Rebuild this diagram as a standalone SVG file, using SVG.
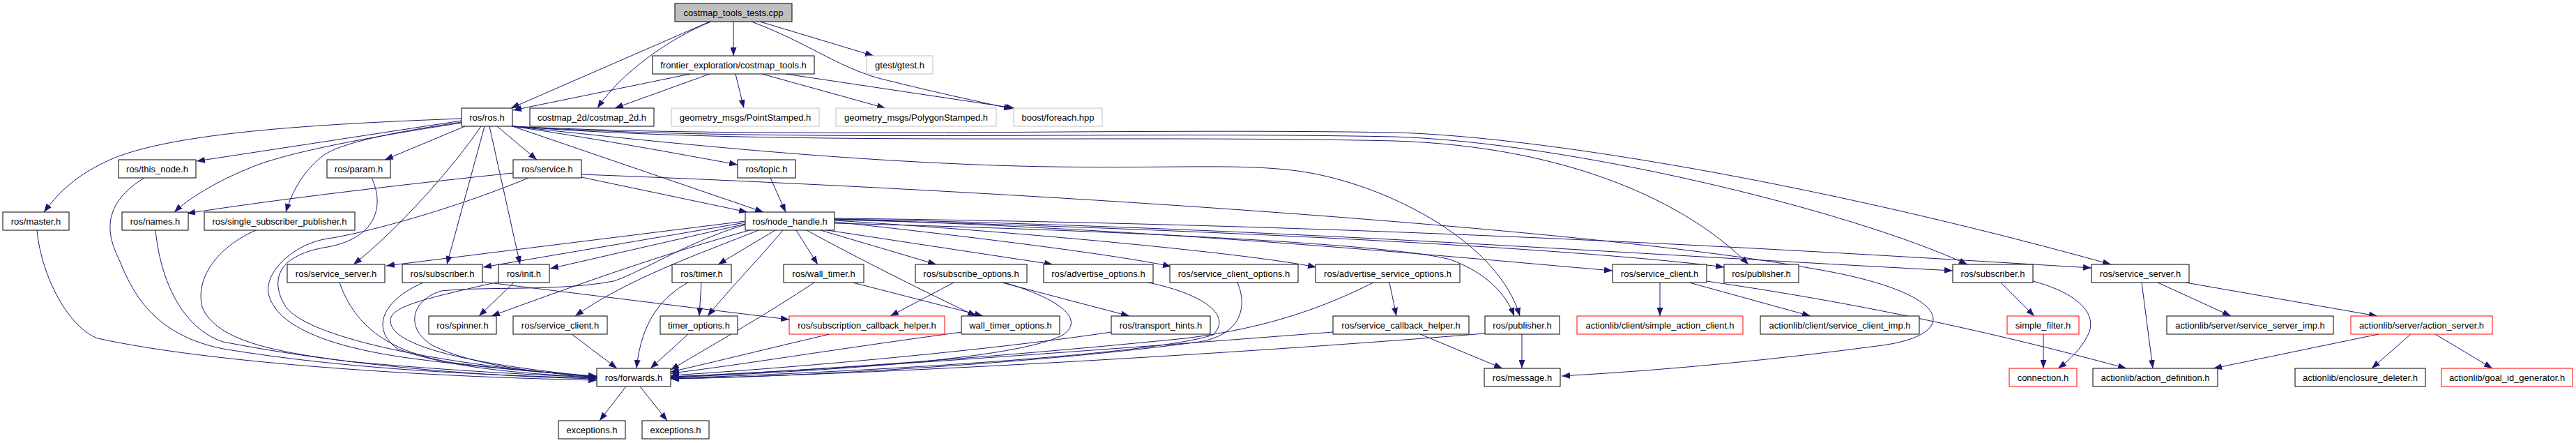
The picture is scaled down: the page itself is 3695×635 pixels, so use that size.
<svg xmlns="http://www.w3.org/2000/svg" width="3695" height="635" viewBox="0 0 3695 635">
<style>
.n rect{fill:#ffffff;stroke:#000000;stroke-width:1}
.n.g rect{stroke:#bfbfbf}
.n.r rect{stroke:#ff0000}
.n.root rect{fill:#bfbfbf}
.n text{font-family:"Liberation Sans",Arial,sans-serif;font-size:13px;fill:#000000;text-anchor:middle}
#edges path{fill:none;stroke:#191970;stroke-width:1;marker-end:url(#a)}
</style>
<defs>
<marker id="a" markerWidth="12" markerHeight="9" refX="12" refY="4.5" orient="auto" markerUnits="userSpaceOnUse"><path d="M0,0L12,4.5L0,9z" fill="#191970"/></marker>
</defs>
<rect width="3695" height="635" fill="#ffffff"/>
<g id="edges">
<path d="M1052,31L1052,80"/>
<path d="M1018,31L733,155"/>
<path d="M1020,31C960,55 890,105 857,155"/>
<path d="M1090,31L1253,80"/>
<path d="M1078,31C1160,62 1200,95 1260,112C1340,132 1400,145 1452,156"/>
<path d="M990,106L736,158"/>
<path d="M1018,106L882,155"/>
<path d="M1055,106L1067,155"/>
<path d="M1093,106L1270,155"/>
<path d="M1127,106L1455,155"/>
<path d="M662,170C450,178 250,190 160,228C110,250 85,275 63,304"/>
<path d="M662,173L282,231"/>
<path d="M662,176C560,192 420,215 360,240C310,260 270,285 250,304"/>
<path d="M662,175C560,190 490,205 465,222C440,240 420,270 410,304"/>
<path d="M667,181L552,229"/>
<path d="M690,181C650,240 570,330 507,379"/>
<path d="M695,181L641,379"/>
<path d="M702,181L746,379"/>
<path d="M713,181L770,229"/>
<path d="M735,181C850,198 960,218 1058,236"/>
<path d="M735,181L1095,304"/>
<path d="M735,181C1000,210 1200,228 1400,236C1650,246 1780,230 1880,248C2000,270 2150,350 2180,453"/>
<path d="M735,181C1100,200 1600,183 2000,190C2200,195 2600,260 3028,379"/>
<path d="M735,181C1100,205 1600,188 2000,196C2250,204 2650,300 2822,379"/>
<path d="M735,181C1100,210 1600,193 2000,202C2250,210 2420,290 2508,379"/>
<path d="M736,248C600,262 400,285 268,306"/>
<path d="M758,255C650,300 520,335 470,342C420,350 380,390 385,420C395,470 480,500 600,515C700,528 800,535 856,540"/>
<path d="M834,254L1072,304"/>
<path d="M834,250C1500,275 2300,330 2600,385C2810,420 2810,480 2700,495C2550,515 2400,530 2240,539"/>
<path d="M1105,255L1127,304"/>
<path d="M207,255C150,290 150,330 170,370C190,420 220,480 320,500C500,530 700,538 856,542"/>
<path d="M223,330C230,400 260,470 320,490C500,525 700,540 856,543"/>
<path d="M53,330C60,400 100,470 140,485C300,520 600,540 856,545"/>
<path d="M367,330C310,355 280,400 290,440C310,490 400,505 500,518C650,532 780,538 856,541"/>
<path d="M533,255C550,290 545,340 470,354C400,365 385,400 410,440C440,480 600,520 856,540"/>
<path d="M1069,322C990,345 920,390 880,403C800,418 700,410 633,417C590,430 580,470 620,495C680,525 780,535 856,540"/>
<path d="M1069,317L554,381"/>
<path d="M1069,319L693,383"/>
<path d="M1069,321L789,385"/>
<path d="M1075,330C950,365 850,400 705,453"/>
<path d="M1088,330C1000,365 900,400 825,453"/>
<path d="M1112,330L1030,379"/>
<path d="M1123,330C1090,370 1050,410 1015,453"/>
<path d="M1142,330L1173,379"/>
<path d="M1157,330C1230,370 1330,420 1400,453"/>
<path d="M1177,330L1343,379"/>
<path d="M1180,329L1510,379"/>
<path d="M1197,318C1400,340 1600,365 1680,382"/>
<path d="M1197,316C1500,335 1800,365 1888,383"/>
<path d="M1197,314C1700,330 2100,370 2313,388"/>
<path d="M1197,320C1600,330 2000,350 2080,372C2130,390 2160,420 2172,453"/>
<path d="M1197,315C1800,330 2300,360 2473,383"/>
<path d="M1197,314C1800,325 2300,362 2801,388"/>
<path d="M1197,313C2000,322 2600,360 3000,384"/>
<path d="M487,405C510,470 560,505 650,520C750,532 820,537 856,539"/>
<path d="M607,405C550,430 530,470 570,500C650,530 780,538 856,540"/>
<path d="M692,404L1132,458"/>
<path d="M737,405L687,453"/>
<path d="M715,404C600,430 560,440 560,460C560,500 700,525 856,540"/>
<path d="M1006,405L1003,453"/>
<path d="M987,405C950,425 920,460 913,528"/>
<path d="M1168,405C1100,450 1030,490 962,530"/>
<path d="M1223,405L1410,453"/>
<path d="M1368,405L1277,453"/>
<path d="M1437,405L1620,453"/>
<path d="M1440,405C1510,425 1560,455 1525,480C1450,520 1100,535 962,541"/>
<path d="M1647,405C1720,420 1770,450 1740,480C1650,510 1200,535 962,542"/>
<path d="M1775,405C1790,440 1780,480 1720,490C1500,520 1150,540 962,543"/>
<path d="M1993,405L2003,453"/>
<path d="M1970,405C1900,440 1820,470 1700,485C1400,515 1100,535 962,540"/>
<path d="M1594,476C1400,505 1100,530 962,538"/>
<path d="M1912,476C1600,500 1200,530 962,540"/>
<path d="M2037,479L2155,528"/>
<path d="M2183,479L2183,528"/>
<path d="M2130,478C1800,505 1300,535 962,543"/>
<path d="M1190,479C1100,500 1020,520 962,533"/>
<path d="M1380,476C1200,500 1050,525 962,535"/>
<path d="M987,479L933,528"/>
<path d="M820,479L885,528"/>
<path d="M898,554L860,603"/>
<path d="M918,554L957,603"/>
<path d="M2381,405L2381,453"/>
<path d="M2423,405L2597,453"/>
<path d="M2448,403C2600,425 2800,460 3050,528"/>
<path d="M2870,405L2918,453"/>
<path d="M2916,403C2980,420 3010,450 2995,480C2985,500 2970,515 2952,528"/>
<path d="M2931,479L2931,528"/>
<path d="M3072,405L3088,528"/>
<path d="M3095,405L3200,453"/>
<path d="M3135,405L3410,453"/>
<path d="M3412,479L3175,528"/>
<path d="M3458,479L3402,528"/>
<path d="M3493,479L3575,528"/>
</g>
<g id="n_root" class="n root"><rect x="968" y="5" width="168" height="26"/><text x="1052" y="23">costmap_tools_tests.cpp</text></g>
<g id="n_frontier" class="n"><rect x="936" y="80" width="232" height="26"/><text x="1052" y="98">frontier_exploration/costmap_tools.h</text></g>
<g id="n_gtest" class="n g"><rect x="1243" y="80" width="95" height="26"/><text x="1290.5" y="98">gtest/gtest.h</text></g>
<g id="n_ros" class="n"><rect x="662" y="155" width="73" height="26"/><text x="698.5" y="173">ros/ros.h</text></g>
<g id="n_costmap2d" class="n"><rect x="760" y="155" width="178" height="26"/><text x="849" y="173">costmap_2d/costmap_2d.h</text></g>
<g id="n_point" class="n g"><rect x="963" y="155" width="212" height="26"/><text x="1069" y="173">geometry_msgs/PointStamped.h</text></g>
<g id="n_polygon" class="n g"><rect x="1199" y="155" width="230" height="26"/><text x="1314" y="173">geometry_msgs/PolygonStamped.h</text></g>
<g id="n_foreach" class="n g"><rect x="1454" y="155" width="127" height="26"/><text x="1517.5" y="173">boost/foreach.hpp</text></g>
<g id="n_this_node" class="n"><rect x="170" y="229" width="111" height="26"/><text x="225.5" y="247">ros/this_node.h</text></g>
<g id="n_param" class="n"><rect x="469" y="229" width="91" height="26"/><text x="514.5" y="247">ros/param.h</text></g>
<g id="n_service" class="n"><rect x="736" y="229" width="98" height="26"/><text x="785" y="247">ros/service.h</text></g>
<g id="n_topic" class="n"><rect x="1058" y="229" width="83" height="26"/><text x="1099.5" y="247">ros/topic.h</text></g>
<g id="n_master" class="n"><rect x="4" y="304" width="95" height="26"/><text x="51.5" y="322">ros/master.h</text></g>
<g id="n_names" class="n"><rect x="175" y="304" width="95" height="26"/><text x="222.5" y="322">ros/names.h</text></g>
<g id="n_ssp" class="n"><rect x="293" y="304" width="216" height="26"/><text x="401" y="322">ros/single_subscriber_publisher.h</text></g>
<g id="n_node_handle" class="n"><rect x="1069" y="304" width="128" height="26"/><text x="1133" y="322">ros/node_handle.h</text></g>
<g id="n_service_server_a" class="n"><rect x="412" y="379" width="140" height="26"/><text x="482" y="397">ros/service_server.h</text></g>
<g id="n_subscriber_a" class="n"><rect x="577" y="379" width="115" height="26"/><text x="634.5" y="397">ros/subscriber.h</text></g>
<g id="n_init" class="n"><rect x="715" y="379" width="73" height="26"/><text x="751.5" y="397">ros/init.h</text></g>
<g id="n_timer" class="n"><rect x="964" y="379" width="85" height="26"/><text x="1006.5" y="397">ros/timer.h</text></g>
<g id="n_wall_timer" class="n"><rect x="1124" y="379" width="115" height="26"/><text x="1181.5" y="397">ros/wall_timer.h</text></g>
<g id="n_subscribe_options" class="n"><rect x="1313" y="379" width="160" height="26"/><text x="1393" y="397">ros/subscribe_options.h</text></g>
<g id="n_advertise_options" class="n"><rect x="1497" y="379" width="157" height="26"/><text x="1575.5" y="397">ros/advertise_options.h</text></g>
<g id="n_service_client_options" class="n"><rect x="1678" y="379" width="184" height="26"/><text x="1770" y="397">ros/service_client_options.h</text></g>
<g id="n_advertise_service_options" class="n"><rect x="1887" y="379" width="207" height="26"/><text x="1990.5" y="397">ros/advertise_service_options.h</text></g>
<g id="n_service_client_b" class="n"><rect x="2313" y="379" width="135" height="26"/><text x="2380.5" y="397">ros/service_client.h</text></g>
<g id="n_publisher_b" class="n"><rect x="2473" y="379" width="107" height="26"/><text x="2526.5" y="397">ros/publisher.h</text></g>
<g id="n_subscriber_b" class="n"><rect x="2801" y="379" width="115" height="26"/><text x="2858.5" y="397">ros/subscriber.h</text></g>
<g id="n_service_server_b" class="n"><rect x="3000" y="379" width="140" height="26"/><text x="3070" y="397">ros/service_server.h</text></g>
<g id="n_spinner" class="n"><rect x="615" y="453" width="97" height="26"/><text x="663.5" y="471">ros/spinner.h</text></g>
<g id="n_service_client_a" class="n"><rect x="736" y="453" width="135" height="26"/><text x="803.5" y="471">ros/service_client.h</text></g>
<g id="n_timer_options" class="n"><rect x="947" y="453" width="111" height="26"/><text x="1002.5" y="471">timer_options.h</text></g>
<g id="n_sub_cb_helper" class="n r"><rect x="1132" y="453" width="223" height="26"/><text x="1243.5" y="471">ros/subscription_callback_helper.h</text></g>
<g id="n_wall_timer_options" class="n"><rect x="1379" y="453" width="141" height="26"/><text x="1449.5" y="471">wall_timer_options.h</text></g>
<g id="n_transport_hints" class="n"><rect x="1594" y="453" width="142" height="26"/><text x="1665" y="471">ros/transport_hints.h</text></g>
<g id="n_service_cb_helper" class="n"><rect x="1912" y="453" width="195" height="26"/><text x="2009.5" y="471">ros/service_callback_helper.h</text></g>
<g id="n_publisher_a" class="n"><rect x="2130" y="453" width="107" height="26"/><text x="2183.5" y="471">ros/publisher.h</text></g>
<g id="n_simple_action_client" class="n r"><rect x="2262" y="453" width="238" height="26"/><text x="2381" y="471">actionlib/client/simple_action_client.h</text></g>
<g id="n_service_client_imp" class="n"><rect x="2525" y="453" width="228" height="26"/><text x="2639" y="471">actionlib/client/service_client_imp.h</text></g>
<g id="n_simple_filter" class="n r"><rect x="2879" y="453" width="103" height="26"/><text x="2930.5" y="471">simple_filter.h</text></g>
<g id="n_service_server_imp" class="n"><rect x="3108" y="453" width="239" height="26"/><text x="3227.5" y="471">actionlib/server/service_server_imp.h</text></g>
<g id="n_action_server" class="n r"><rect x="3372" y="453" width="203" height="26"/><text x="3473.5" y="471">actionlib/server/action_server.h</text></g>
<g id="n_forwards" class="n"><rect x="856" y="528" width="106" height="26"/><text x="909" y="546">ros/forwards.h</text></g>
<g id="n_message" class="n"><rect x="2129" y="528" width="109" height="26"/><text x="2183.5" y="546">ros/message.h</text></g>
<g id="n_connection" class="n r"><rect x="2882" y="528" width="97" height="26"/><text x="2930.5" y="546">connection.h</text></g>
<g id="n_action_definition" class="n"><rect x="3002" y="528" width="179" height="26"/><text x="3091.5" y="546">actionlib/action_definition.h</text></g>
<g id="n_enclosure_deleter" class="n"><rect x="3292" y="528" width="187" height="26"/><text x="3385.5" y="546">actionlib/enclosure_deleter.h</text></g>
<g id="n_goal_id_generator" class="n r"><rect x="3502" y="528" width="188" height="26"/><text x="3596" y="546">actionlib/goal_id_generator.h</text></g>
<g id="n_exceptions_1" class="n"><rect x="801" y="603" width="96" height="26"/><text x="849" y="621">exceptions.h</text></g>
<g id="n_exceptions_2" class="n"><rect x="921" y="603" width="96" height="26"/><text x="969" y="621">exceptions.h</text></g>
</svg>
